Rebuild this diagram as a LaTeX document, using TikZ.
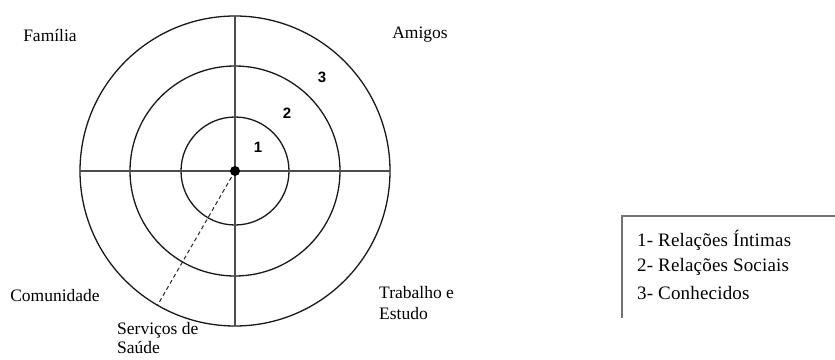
\documentclass[tikz,border=0pt]{standalone}
\usepackage{fontspec}
\setmainfont{Liberation Serif}
\newfontfamily\numfont{Liberation Sans}
\newfontfamily\legendfont[LetterSpace=1]{Liberation Serif}
\usetikzlibrary{calc}

\tikzset{
  ring/.style={line width=1.3pt, color=black!90},
  axis/.style={line width=1.1pt, color=black!70},
  ray/.style={line width=1pt, color=black!85, dash pattern=on 4pt off 3pt},
  lbl/.style={font=\fontsize{17.5}{21}\selectfont, inner sep=0pt},
  num/.style={font=\numfont\bfseries\fontsize{15}{15}\selectfont, inner sep=0pt},
  legendtext/.style={font=\legendfont\fontsize{19}{19}\selectfont, inner sep=0pt, anchor=west},
  legendframe/.style={line width=2.5pt, color=black!55},
}

\begin{document}
\begin{tikzpicture}[x=1pt,y=-1pt]
	%%%%% START %%%%%
	\useasboundingbox (0,0) rectangle (835,359);
	
	\coordinate (c) at (235,171);
	\coordinate (west) at ($(c)+(-155,0)$);
	\coordinate (east) at ($(c)+(155,0)$);
	\coordinate (north) at ($(c)+(0,-155)$);
	\coordinate (south) at ($(c)+(0,155)$);
	\coordinate (saude) at ($(c)+(240:155pt)$);
	
	\draw[ring] (c) circle [radius=155pt];
	\draw[ring] (c) circle [radius=105pt];
	\draw[ring] (c) circle [radius=54pt];
	
	\draw[axis] (west) -- (east);
	\draw[axis] (north) -- (south);
	\draw[ray] (c) -- (saude);
	\fill (c) circle [radius=5pt];
	
	\node[num] (n1) at (258,147) {1};
	\node[num] (n2) at (287,113) {2};
	\node[num] (n3) at (322,77) {3};
	
	\node[lbl] (familia) at (50,35) {Família};
	\node[lbl] (amigos) at (420,35) {Amigos};
	\node[lbl] (comunidade) at (55,296) {Comunidade};
	\node[lbl, anchor=north west, align=left] (trabalho) at (379,286) {Trabalho e\\Estudo};
	\node[lbl, anchor=north west, align=left, font=\fontsize{17.5}{19}\selectfont] (servicos) at (117,322) {Serviços de\\Saúde};
	
	% legenda
	\draw[legendframe] (835,216) -- (622,216) -- (622,318);
	\node[legendtext] (leg1) at (637,240) {1- Relações Íntimas};
	\node[legendtext] (leg2) at (637,267) {2- Relações Sociais};
	\node[legendtext] (leg3) at (637,293) {3- Conhecidos};
	%%%%% END %%%%%
\end{tikzpicture}
\end{document}
